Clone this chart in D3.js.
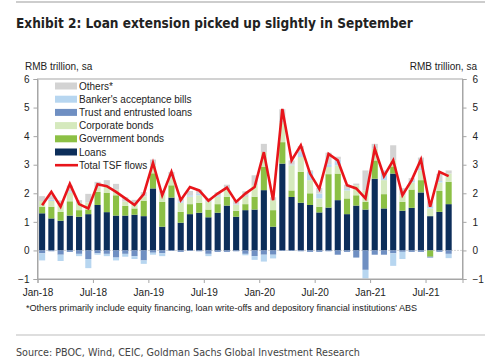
<!DOCTYPE html>
<html>
<head>
<meta charset="utf-8">
<script src="https://cdn.jsdelivr.net/npm/d3@7"></script>
<style>
  body { margin: 0; background: #fff; }
  svg { display: block; }
</style>
</head>
<body>
<div id="chart"></div>
<script>
// monthly data, Jan-18 .. Sep-21, RMB trillion sa
const months = ["Jan-18","Feb-18","Mar-18","Apr-18","May-18","Jun-18","Jul-18","Aug-18","Sep-18","Oct-18","Nov-18","Dec-18",
  "Jan-19","Feb-19","Mar-19","Apr-19","May-19","Jun-19","Jul-19","Aug-19","Sep-19","Oct-19","Nov-19","Dec-19",
  "Jan-20","Feb-20","Mar-20","Apr-20","May-20","Jun-20","Jul-20","Aug-20","Sep-20","Oct-20","Nov-20","Dec-20",
  "Jan-21","Feb-21","Mar-21","Apr-21","May-21","Jun-21","Jul-21","Aug-21","Sep-21"];

const loans = [1.30,1.12,1.04,1.22,1.18,1.27,1.59,1.34,1.22,1.22,1.25,1.20,
  2.17,0.83,1.85,0.97,1.27,1.32,1.16,1.32,1.57,1.18,1.41,1.43,
  2.11,0.83,3.04,1.87,1.67,1.59,1.33,1.50,1.76,1.27,1.57,1.43,
  2.51,1.47,2.69,1.39,1.49,2.03,1.20,1.35,1.62];
const govBonds = [0.23,0.41,0.31,0.50,0.23,0.16,0.46,0.67,0.71,0.34,0.22,0.54,
  0.53,0.87,0.43,0.38,0.35,0.35,0.27,0.30,0.31,0.21,0.21,0.45,
  0.81,0.58,0.75,0.23,1.08,0.41,0.20,1.17,0.93,0.55,0.36,0.27,
  0.64,0.50,0.25,0.31,0.64,0.43,-0.22,0.73,0.78];
const corpBonds = [0.20,0.20,0.25,0.30,0.25,0.25,0.15,0.25,0.20,0.15,0.15,0.15,
  0.28,0.29,0.27,0.32,0.26,0.26,0.27,0.26,0.25,0.20,0.25,0.40,
  0.52,0.35,0.70,0.88,0.52,0.46,0.29,0.25,0.29,0.28,0.35,0.40,
  0.41,0.49,0.21,0.23,0.25,0.34,0.27,0.30,0.29];
const trustLoans = [-0.10,-0.03,-0.15,-0.05,-0.12,-0.30,-0.10,-0.12,-0.25,-0.12,-0.20,-0.35,
  -0.08,-0.10,-0.02,-0.05,-0.02,-0.03,-0.12,-0.05,-0.05,-0.03,-0.12,-0.20,
  -0.15,-0.15,-0.02,-0.02,-0.03,-0.05,-0.05,-0.03,-0.15,-0.05,-0.25,-0.68,
  -0.15,-0.15,-0.10,-0.05,-0.05,-0.05,-0.03,-0.05,-0.12];
const bankersBills = [-0.25,0.05,-0.22,0.05,-0.08,-0.32,-0.05,-0.08,-0.10,-0.10,-0.10,-0.12,
  -0.07,-0.10,0.05,0.05,0.05,0.05,-0.08,0.03,0.02,0.02,-0.05,-0.13,
  -0.24,-0.13,0.05,0.02,0.18,0.29,0.17,0.10,0.20,0.05,0.00,-0.30,
  0.00,0.34,-0.44,-0.25,0.05,0.05,0.05,0.05,-0.15];
const others = [0.17,0.15,0.15,0.20,0.10,0.30,0.20,0.20,0.20,0.15,0.15,0.15,
  0.20,0.10,0.15,0.10,0.15,0.15,0.12,0.12,0.15,0.15,0.20,0.35,
  0.29,0.10,0.40,0.15,0.20,0.05,0.20,0.40,0.10,0.15,0.06,0.70,
  0.17,0.00,0.53,0.25,0.10,0.40,0.20,0.25,0.11];
const totalTSF = [1.58,2.05,1.53,2.33,1.62,1.47,2.32,2.25,2.05,1.82,1.59,1.97,
  3.06,1.93,2.75,1.76,2.22,2.10,1.74,1.99,2.20,1.70,1.99,2.22,
  3.44,1.76,4.95,3.15,3.68,2.69,2.15,3.38,3.15,2.28,2.17,1.82,
  3.56,2.60,3.15,1.93,2.46,3.18,1.53,2.75,2.60];

const yTicks = [-1, 0, 1, 2, 3, 4, 5, 6];
const xTickLabels = ["Jan-18","Jul-18","Jan-19","Jul-19","Jan-20","Jul-20","Jan-21","Jul-21"];

const seriesKeys = ["loans","govBonds","corpBonds","trustLoans","bankersBills","others"];
const seriesNames = {loans:"Loans", govBonds:"Government bonds", corpBonds:"Corporate bonds",
  trustLoans:"Trust and entrusted loans", bankersBills:"Banker's acceptance bills", others:"Others*"};
const colors = {loans:"#0c2e5a", govBonds:"#8cc045", corpBonds:"#d5e9bd",
  trustLoans:"#6f8fc2", bankersBills:"#b7d6f0", others:"#d3d3d3"};

const width = 500, height = 358;
const plot = {left: 37.5, right: 462.5, top: 79, bottom: 279};
const font = "'Liberation Sans', Arial, sans-serif";
const narrow = "'Liberation Sans Narrow', 'DejaVu Sans Condensed', 'Arial Narrow', sans-serif";

let svg = d3.select("#chart").append("svg")
    .attr("width", width)
    .attr("height", height);

// shrink/grow font so the text spans about the same width as in the original
function fitText(sel, target, size) {
    sel.style("font-size", size + "px");
    const w = sel.node().getComputedTextLength();
    if (w > 0) sel.style("font-size", (size * target / w).toFixed(2) + "px");
}

// rows for stacking
const table = months.map((m, i) => ({
    month: m, loans: loans[i], govBonds: govBonds[i], corpBonds: corpBonds[i],
    trustLoans: trustLoans[i], bankersBills: bankersBills[i], others: others[i]
}));

// one empty slot after Sep-21 like the original axis
const slots = months.concat(["Oct-21"]);
const x = d3.scaleBand().domain(slots).range([plot.left, plot.right]).paddingInner(0.34).paddingOuter(0.17);
const xEdge = d3.scaleLinear().domain([0, slots.length]).range([plot.left, plot.right]);
const y = d3.scaleLinear().domain([-1, 6]).range([plot.bottom, plot.top]);

// header and footer rules
svg.append("line").attr("x1", 16).attr("x2", 485).attr("y1", 2).attr("y2", 2)
    .attr("stroke", "#bdbdbd").attr("stroke-width", 1.5);
svg.append("line").attr("x1", 16).attr("x2", 485).attr("y1", 335).attr("y2", 335)
    .attr("stroke", "#bdbdbd").attr("stroke-width", 1.2);

const title = svg.append("text")
    .attr("x", 16).attr("y", 28)
    .style("font-family", narrow).style("font-weight", "bold")
    .style("fill", "#222")
    .text("Exhibit 2: Loan extension picked up slightly in September");
fitText(title, 397, 18);

const source = svg.append("text")
    .attr("x", 16).attr("y", 356)
    .style("font-family", narrow).style("fill", "#444")
    .text("Source: PBOC, Wind, CEIC, Goldman Sachs Global Investment Research");
fitText(source, 344, 14);

const note = svg.append("text")
    .attr("x", 26).attr("y", 310.5)
    .style("font-family", font).style("fill", "#222")
    .text("*Others primarily include equity financing, loan write-offs and depository financial institutions' ABS");
fitText(note, 391, 9);

// unit labels
svg.append("text").attr("x", 25).attr("y", 69.5)
    .style("font-family", font).style("font-size", "10px").style("fill", "#222")
    .text("RMB trillion, sa");
svg.append("text").attr("x", 477).attr("y", 69.5).attr("text-anchor", "end")
    .style("font-family", font).style("font-size", "10px").style("fill", "#222")
    .text("RMB trillion, sa");

// zero line, dotted
svg.append("line")
    .attr("x1", plot.left).attr("x2", plot.right)
    .attr("y1", y(0)).attr("y2", y(0))
    .attr("stroke", "#b0b0b0").attr("stroke-width", 1).attr("stroke-dasharray", "1,2");

// stacked bars
const stacked = d3.stack().keys(seriesKeys).offset(d3.stackOffsetDiverging)(table);

svg.append("g").selectAll("g")
    .data(stacked)
    .enter().append("g")
    .attr("fill", d => colors[d.key])
    .selectAll("rect")
    .data(d => d)
    .enter().append("rect")
    .attr("x", d => x(d.data.month))
    .attr("width", x.bandwidth())
    .attr("y", d => y(Math.max(d[0], d[1])))
    .attr("height", d => Math.abs(y(d[0]) - y(d[1])));

// total TSF line
const line = d3.line()
    .x((d, i) => x(months[i]) + x.bandwidth() / 2)
    .y(d => y(d));

svg.append("path")
    .datum(totalTSF)
    .attr("d", line)
    .attr("fill", "none")
    .attr("stroke", "#e8151b")
    .attr("stroke-width", 2.6)
    .attr("stroke-linejoin", "miter");

// frame
svg.append("rect")
    .attr("x", plot.left).attr("y", plot.top)
    .attr("width", plot.right - plot.left).attr("height", plot.bottom - plot.top)
    .attr("fill", "none").attr("stroke", "#a6a6a6").attr("stroke-width", 1);

// axes
const yLeft = svg.append("g")
    .attr("transform", "translate(" + plot.left + ",0)")
    .call(d3.axisLeft(y).tickValues(yTicks).tickSize(4).tickPadding(4).tickFormat(d3.format("d")));
const yRight = svg.append("g")
    .attr("transform", "translate(" + plot.right + ",0)")
    .call(d3.axisRight(y).tickValues(yTicks).tickSize(4).tickPadding(6).tickFormat(d3.format("d")));
const xAxis = svg.append("g")
    .attr("transform", "translate(0," + plot.bottom + ")")
    .call(d3.axisBottom(xEdge).tickValues(d3.range(0, 45, 6)).tickSize(4).tickPadding(4)
        .tickFormat((d, i) => xTickLabels[i]));

[yLeft, yRight, xAxis].forEach(g => {
    g.select(".domain").attr("stroke", "#a6a6a6");
    g.selectAll(".tick line").attr("stroke", "#a6a6a6");
    g.selectAll("text").style("font-family", font).style("font-size", "10px").style("fill", "#222");
});
xAxis.selectAll("text").attr("dy", "0.85em");

// legend
const legendItems = ["others","bankersBills","trustLoans","corpBonds","govBonds","loans"];
const legend = svg.append("g");
legendItems.forEach((k, i) => {
    const cy = 86 + i * 13.2;
    legend.append("rect")
        .attr("x", 55).attr("y", cy - 3.5).attr("width", 22).attr("height", 7)
        .attr("fill", colors[k]);
    legend.append("text")
        .attr("x", 79).attr("y", cy + 3.6)
        .style("font-family", font).style("font-size", "10px").style("fill", "#222")
        .text(seriesNames[k]);
});
const lcy = 86 + 6 * 13.2;
legend.append("line")
    .attr("x1", 55).attr("x2", 78).attr("y1", lcy).attr("y2", lcy)
    .attr("stroke", "#e8151b").attr("stroke-width", 2.6);
legend.append("text")
    .attr("x", 79).attr("y", lcy + 3.6)
    .style("font-family", font).style("font-size", "10px").style("fill", "#222")
    .text("Total TSF flows");
</script>
</body>
</html>
